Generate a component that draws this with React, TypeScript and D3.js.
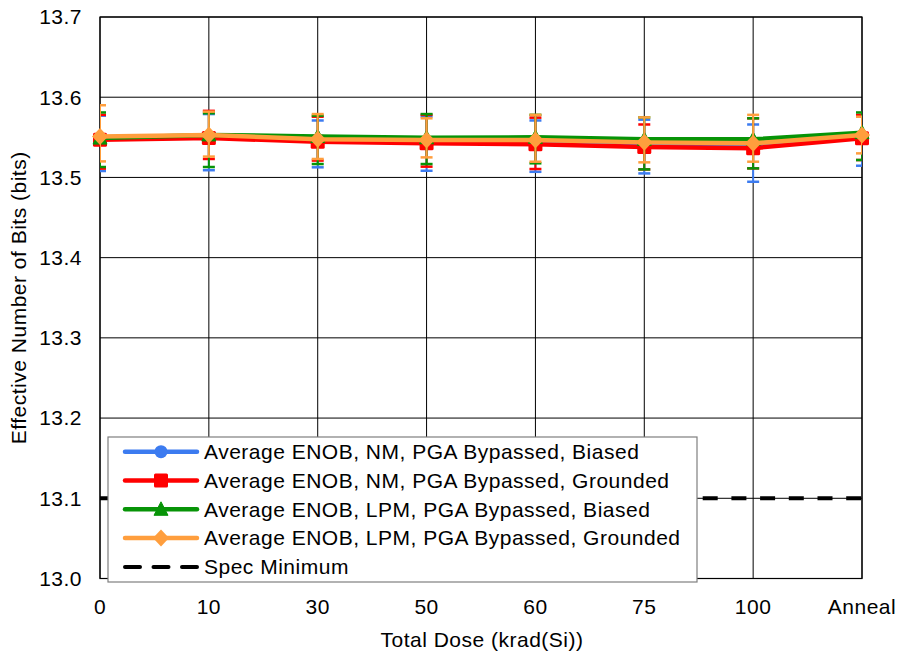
import React from "react";
import * as d3 from "d3";

const categories = ["0", "10", "30", "50", "60", "75", "100", "Anneal"];
const yTicks = [13.0, 13.1, 13.2, 13.3, 13.4, 13.5, 13.6, 13.7];
const specMinimum = 13.1;

const seriesNames = [
  "Average ENOB, NM, PGA Bypassed, Biased",
  "Average ENOB, NM, PGA Bypassed, Grounded",
  "Average ENOB, LPM, PGA Bypassed, Biased",
  "Average ENOB, LPM, PGA Bypassed, Grounded",
];
const specName = "Spec Minimum";

const nmBiasedMean = [13.548, 13.55, 13.546, 13.545, 13.544, 13.541, 13.54, 13.551];
const nmBiasedMax = [13.577, 13.579, 13.571, 13.576, 13.571, 13.572, 13.566, 13.576];
const nmBiasedMin = [13.508, 13.509, 13.5126, 13.5083, 13.507, 13.505, 13.4946, 13.5146];

const nmGroundedMean = [13.547, 13.549, 13.5445, 13.5425, 13.5415, 13.538, 13.5365, 13.5487];
const nmGroundedMax = [13.578, 13.583, 13.5757, 13.578, 13.5745, 13.566, 13.5737, 13.578];
const nmGroundedMin = [13.511, 13.523, 13.521, 13.5134, 13.5105, 13.51, 13.5113, 13.5217];

const lpmBiasedMean = [13.549, 13.553, 13.551, 13.5495, 13.55, 13.5475, 13.5475, 13.5558];
const lpmBiasedMax = [13.581, 13.58, 13.577, 13.579, 13.578, 13.5749, 13.5737, 13.581];
const lpmBiasedMin = [13.513, 13.513, 13.5167, 13.5167, 13.5176, 13.51, 13.5113, 13.5217];

const lpmGroundedMean = [13.551, 13.553, 13.5475, 13.5466, 13.5466, 13.5437, 13.5425, 13.553];
const lpmGroundedMax = [13.59, 13.582, 13.579, 13.5737, 13.578, 13.5749, 13.578, 13.5757];
const lpmGroundedMin = [13.52, 13.526, 13.523, 13.525, 13.5196, 13.5188, 13.5196, 13.53];

const colors = ["#3C7BF0", "#FF0000", "#079407", "#FF9E3D"];
const markers = ["circle", "square", "triangle", "diamond"];

const W = 899;
const H = 652;
const L = 100;
const R = 862;
const T = 17;
const B = 578.5;
const FONT = "'Liberation Sans', Arial, sans-serif";
const FS = 21;
const LS = 0.5;

function Marker({ type, x, y, color }: { type: string; x: number; y: number; color: string }) {
  if (type === "circle") return <circle cx={x} cy={y} r={6.5} fill={color} />;
  if (type === "square")
    return <rect x={x - 7} y={y - 7} width={14} height={14} rx={1.5} fill={color} />;
  if (type === "triangle")
    return <path d={`M${x},${y - 7.5}L${x + 7},${y + 6}L${x - 7},${y + 6}Z`} fill={color} strokeLinejoin="round" stroke={color} strokeWidth={1} />;
  return <path d={`M${x},${y - 8.5}L${x + 8},${y}L${x},${y + 8.5}L${x - 8},${y}Z`} fill={color} />;
}

export default function App() {
  const x = d3.scalePoint<string>().domain(categories).range([L, R]).padding(0);
  const y = d3.scaleLinear().domain([13.0, 13.7]).range([B, T]);

  const means = [nmBiasedMean, nmGroundedMean, lpmBiasedMean, lpmGroundedMean];
  const maxs = [nmBiasedMax, nmGroundedMax, lpmBiasedMax, lpmGroundedMax];
  const mins = [nmBiasedMin, nmGroundedMin, lpmBiasedMin, lpmGroundedMin];

  const line = d3
    .line<number>()
    .x((_, i) => x(categories[i]) as number)
    .y((d) => y(d));

  const legendX = 108;
  const legendY = 437;
  const legendW = 589;
  const legendH = 145;
  const rowH = 28.8;

  return (
    <div style={{ position: "absolute", left: 0, top: 0 }}>
      <svg width={W} height={H} style={{ display: "block", background: "#fff" }} fontFamily={FONT}>
        <defs>
          <clipPath id="plotClip">
            <rect x={L} y={T - 20} width={R - L} height={B - T + 40} />
          </clipPath>
        </defs>
        <rect x={0} y={0} width={W} height={H} fill="#fff" />
        {/* grid */}
        {yTicks.map((t) => (
          <line key={"gy" + t} x1={L} x2={R} y1={y(t)} y2={y(t)} stroke="#000" strokeWidth={1} />
        ))}
        {categories.map((c) => (
          <line key={"gx" + c} x1={x(c)} x2={x(c)} y1={T} y2={B} stroke="#000" strokeWidth={1} />
        ))}
        <rect x={L} y={T} width={R - L} height={B - T} fill="none" stroke="#000" strokeWidth={1.2} />
        {/* spec line */}
        <line
          x1={L}
          x2={R}
          y1={y(specMinimum)}
          y2={y(specMinimum)}
          stroke="#000"
          strokeWidth={4}
          strokeDasharray="15 13.7"
        />
        {/* series */}
        {means.map((m, si) => (
          <g key={"s" + si}>
            <path d={line(m) || ""} fill="none" stroke={colors[si]} strokeWidth={4.5} strokeLinejoin="round" />
            <g clipPath="url(#plotClip)">
              {m.map((_, i) => {
                const cx = x(categories[i]) as number;
                const y1 = y(maxs[si][i]);
                const y2 = y(mins[si][i]);
                return (
                  <g key={"e" + i} stroke={colors[si]}>
                    <line x1={cx} x2={cx} y1={y1} y2={y2} strokeWidth={2} />
                    <line x1={cx - 6} x2={cx + 6} y1={y1} y2={y1} strokeWidth={2.5} />
                    <line x1={cx - 6} x2={cx + 6} y1={y2} y2={y2} strokeWidth={2.5} />
                  </g>
                );
              })}
            </g>
            {m.map((v, i) => (
              <Marker key={"m" + i} type={markers[si]} x={x(categories[i]) as number} y={y(v)} color={colors[si]} />
            ))}
          </g>
        ))}
        <g fontSize={FS} letterSpacing={LS} fill="#000">
          {/* y tick labels */}
          {yTicks.map((t) => (
            <text key={"ty" + t} x={82} y={y(t)} dy="0.35em" textAnchor="end">
              {t.toFixed(1)}
            </text>
          ))}
          {/* x tick labels */}
          {categories.map((c) => (
            <text key={"tx" + c} x={x(c)} y={614} textAnchor="middle">
              {c}
            </text>
          ))}
          <text x={482} y={647} textAnchor="middle">
            Total Dose (krad(Si))
          </text>
          <text transform={`translate(26,${(T + B) / 2}) rotate(-90)`} textAnchor="middle">
            Effective Number of Bits (bits)
          </text>
        </g>
        {/* legend */}
        <rect x={legendX} y={legendY} width={legendW} height={legendH} fill="#fff" stroke="#7f7f7f" strokeWidth={1.2} />
        <g fontSize={FS} letterSpacing={LS} fill="#000">
          {seriesNames.map((n, i) => {
            const cy = legendY + 14.7 + i * rowH;
            return (
              <g key={"l" + i}>
                <line x1={125} x2={197} y1={cy} y2={cy} stroke={colors[i]} strokeWidth={4.5} strokeLinecap="round" />
                <Marker type={markers[i]} x={161} y={cy} color={colors[i]} />
                <text x={204} y={cy} dy="0.35em">
                  {n}
                </text>
              </g>
            );
          })}
          {(() => {
            const cy = legendY + 14.7 + 4 * rowH;
            return (
              <g>
                <line x1={125} x2={197} y1={cy} y2={cy} stroke="#000" strokeWidth={4} strokeDasharray="15 13.5" strokeLinecap="round" />
                <text x={204} y={cy} dy="0.35em">
                  {specName}
                </text>
              </g>
            );
          })()}
        </g>
      </svg>
    </div>
  );
}
